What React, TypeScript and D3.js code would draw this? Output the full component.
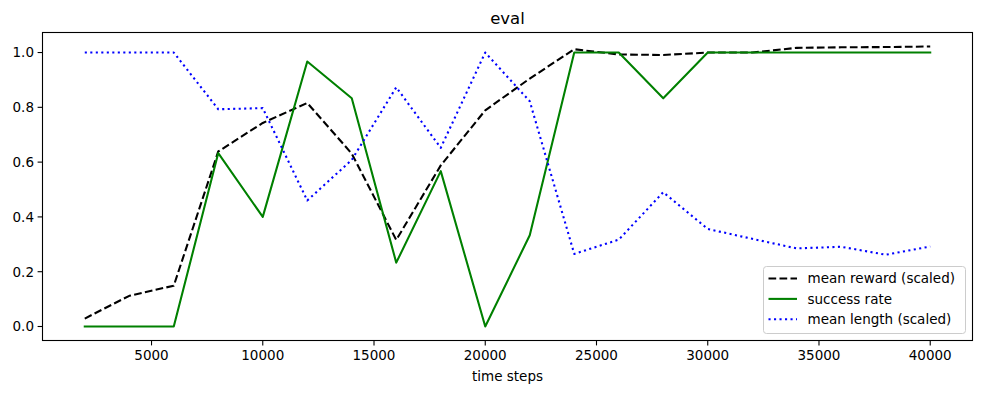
import React from "react";
import * as d3 from "d3";

const steps = [2000, 4000, 6000, 8000, 10000, 12000, 14000, 16000, 18000, 20000, 22000, 24000, 26000, 28000, 30000, 32000, 34000, 36000, 38000, 40000];
const meanReward = [0.029, 0.112, 0.149, 0.639, 0.743, 0.816, 0.631, 0.316, 0.588, 0.789, 0.905, 1.012, 0.993, 0.991, 1.0, 1.0, 1.017, 1.019, 1.02, 1.022];
const successRate = [0, 0, 0, 0.633, 0.4, 0.967, 0.833, 0.233, 0.567, 0, 0.333, 1.0, 1.0, 0.833, 1.0, 1.0, 1.0, 1.0, 1.0, 1.0];
const meanLength = [1.0, 1.0, 1.0, 0.793, 0.797, 0.46, 0.608, 0.873, 0.652, 1.0, 0.822, 0.265, 0.317, 0.49, 0.356, 0.32, 0.285, 0.291, 0.262, 0.292];
const xTicks = [5000, 10000, 15000, 20000, 25000, 30000, 35000, 40000];
const yTicks = [0.0, 0.2, 0.4, 0.6, 0.8, 1.0];

const W = 981, H = 393;
const L = 42.5, R = 972.5, T = 32.5, B = 340.5;
const FONT = "DejaVu Sans, sans-serif";

export default function App() {
  const x = d3.scaleLinear().domain([100, 41900]).range([L, R]);
  const yMax = 1.022;
  const y = d3.scaleLinear().domain([-0.05 * yMax, yMax * 1.05]).range([B, T]);
  const line = d3.line<number>().x((_, i) => x(steps[i])).y((d) => y(d));

  const series = [
    { name: "mean reward (scaled)", data: meanReward, color: "#000000", dash: "7.7,3.3" },
    { name: "success rate", data: successRate, color: "#008000", dash: "" },
    { name: "mean length (scaled)", data: meanLength, color: "#0000ff", dash: "2.1,3.4" },
  ];

  const lgX = 763.5, lgY = 266.5, lgW = 202, lgH = 67;

  return (
    <svg width={W} height={H} style={{ position: "absolute", left: 0, top: 0 }} fontFamily={FONT}>
      <rect x={0} y={0} width={W} height={H} fill="#fff" />
      <text x={(L + R) / 2} y={24} textAnchor="middle" fontSize={16.5} fill="#000">eval</text>
      <defs>
        <clipPath id="plotclip"><rect x={L} y={T} width={R - L} height={B - T} /></clipPath>
      </defs>
      <g clipPath="url(#plotclip)">
        {series.map((s) => (
          <path key={s.name} d={line(s.data) || ""} fill="none" stroke={s.color} strokeWidth={2.08}
            strokeDasharray={s.dash || undefined} strokeLinejoin="round" strokeLinecap={s.dash ? "butt" : "square"} />
        ))}
      </g>
      <rect x={L} y={T} width={R - L} height={B - T} fill="none" stroke="#000" strokeWidth={1.1} />
      {xTicks.map((t) => (
        <g key={t}>
          <line x1={x(t)} x2={x(t)} y1={B} y2={B + 4.9} stroke="#000" strokeWidth={1.1} />
          <text x={x(t)} y={B + 19} textAnchor="middle" fontSize={13.5} fill="#000">{t}</text>
        </g>
      ))}
      {yTicks.map((t) => (
        <g key={t}>
          <line x1={L - 4.9} x2={L} y1={y(t)} y2={y(t)} stroke="#000" strokeWidth={1.1} />
          <text x={L - 8.5} y={y(t)} dy="0.36em" textAnchor="end" fontSize={13.5} fill="#000">{t.toFixed(1)}</text>
        </g>
      ))}
      <text x={(L + R) / 2} y={381} textAnchor="middle" fontSize={13.5} fill="#000">time steps</text>
      <g>
        <rect x={lgX} y={lgY} width={lgW} height={lgH} rx={3} fill="#fff" fillOpacity={0.8} stroke="#cccccc" strokeWidth={1} />
        {series.map((s, i) => {
          const cy = lgY + 12 + i * 20.4;
          return (
            <g key={s.name}>
              <line x1={lgX + 5} x2={lgX + 33.5} y1={cy} y2={cy} stroke={s.color} strokeWidth={2.08} strokeDasharray={s.dash || undefined} />
              <text x={lgX + 44} y={cy} dy="0.36em" fontSize={13.5} fill="#000">{s.name}</text>
            </g>
          );
        })}
      </g>
    </svg>
  );
}
